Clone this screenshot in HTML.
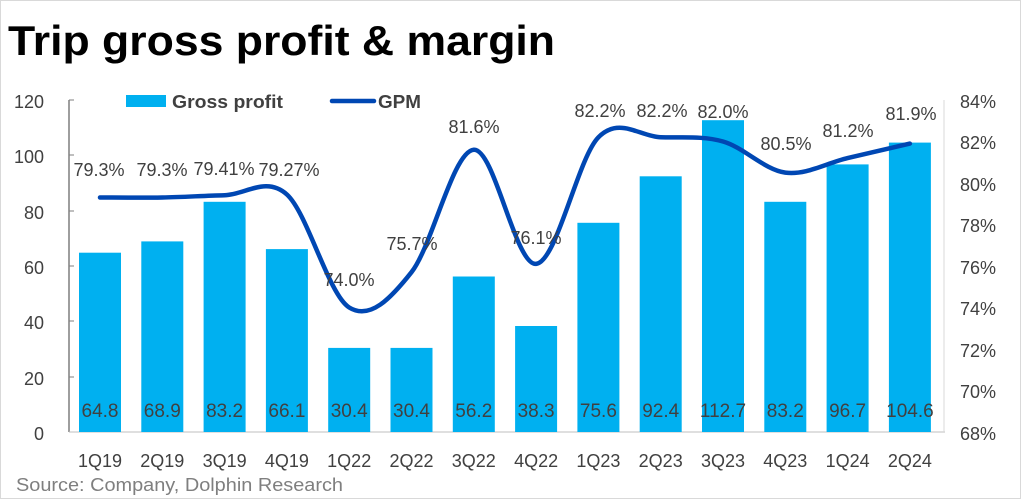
<!DOCTYPE html>
<html><head><meta charset="utf-8"><style>
body{margin:0;background:#fff;}
svg{display:block;font-family:"Liberation Sans",sans-serif;}
</style></head><body>
<svg width="1021" height="499" viewBox="0 0 1021 499" xmlns="http://www.w3.org/2000/svg">
<rect x="0.5" y="0.5" width="1020" height="498" fill="#fff" stroke="#d9d9d9"/>
<text x="8" y="55" font-size="42" font-weight="bold" fill="#000" textLength="547" lengthAdjust="spacingAndGlyphs">Trip gross profit &amp; margin</text>
<!-- axes -->
<line x1="69" y1="100" x2="69" y2="432" stroke="#7f7f7f" stroke-width="1.5"/>
<line x1="69" y1="432" x2="945" y2="432" stroke="#bfbfbf"/>
<line x1="944" y1="100" x2="944" y2="432" stroke="#d9d9d9"/>
<g stroke="#7f7f7f"><line x1="69" y1="100" x2="74" y2="100"/><line x1="69" y1="155" x2="74" y2="155"/><line x1="69" y1="211" x2="74" y2="211"/><line x1="69" y1="266" x2="74" y2="266"/><line x1="69" y1="321" x2="74" y2="321"/><line x1="69" y1="377" x2="74" y2="377"/></g>
<g font-size="18" fill="#404040" text-anchor="end">
<text x="44" y="108">120</text><text x="44" y="163">100</text><text x="44" y="219">80</text><text x="44" y="274">60</text><text x="44" y="329">40</text><text x="44" y="385">20</text><text x="44" y="440">0</text>
</g>
<g font-size="18" fill="#404040">
<text x="960" y="108">84%</text><text x="960" y="149">82%</text><text x="960" y="191">80%</text><text x="960" y="232">78%</text><text x="960" y="274">76%</text><text x="960" y="315">74%</text><text x="960" y="357">72%</text><text x="960" y="398">70%</text><text x="960" y="440">68%</text>
</g>
<!-- bars -->
<g fill="#00b0f0">
<rect x="79" y="252.7" width="42" height="179.3"/>
<rect x="141.3" y="241.4" width="42" height="190.6"/>
<rect x="203.6" y="201.8" width="42" height="230.2"/>
<rect x="265.9" y="249.1" width="42" height="182.9"/>
<rect x="328.2" y="347.9" width="42" height="84.1"/>
<rect x="390.5" y="347.9" width="42" height="84.1"/>
<rect x="452.8" y="276.5" width="42" height="155.5"/>
<rect x="515.1" y="326.0" width="42" height="106"/>
<rect x="577.4" y="222.8" width="42" height="209.2"/>
<rect x="639.7" y="176.3" width="42" height="255.7"/>
<rect x="702" y="120.2" width="42" height="311.8"/>
<rect x="764.3" y="201.8" width="42" height="230.2"/>
<rect x="826.6" y="164.4" width="42" height="267.6"/>
<rect x="888.9" y="142.6" width="42" height="289.4"/>
</g>
<g font-size="19" fill="#404040" text-anchor="middle">
<text x="100" y="417">64.8</text><text x="162.3" y="417">68.9</text><text x="224.6" y="417">83.2</text><text x="286.9" y="417">66.1</text><text x="349.2" y="417">30.4</text><text x="411.5" y="417">30.4</text><text x="473.8" y="417">56.2</text><text x="536.1" y="417">38.3</text><text x="598.4" y="417">75.6</text><text x="660.7" y="417">92.4</text><text x="723" y="417">112.7</text><text x="785.3" y="417">83.2</text><text x="847.6" y="417">96.7</text><text x="909.9" y="417">104.6</text>
</g>
<g font-size="18" fill="#404040" text-anchor="middle">
<text x="100" y="467">1Q19</text><text x="162.3" y="467">2Q19</text><text x="224.6" y="467">3Q19</text><text x="286.9" y="467">4Q19</text><text x="349.2" y="467">1Q22</text><text x="411.5" y="467">2Q22</text><text x="473.8" y="467">3Q22</text><text x="536.1" y="467">4Q22</text><text x="598.4" y="467">1Q23</text><text x="660.7" y="467">2Q23</text><text x="723" y="467">3Q23</text><text x="785.3" y="467">4Q23</text><text x="847.6" y="467">1Q24</text><text x="909.9" y="467">2Q24</text>
</g>
<path id="gpm" d="" fill="none" stroke="#0047b3" stroke-width="4.5" stroke-linecap="round"/>
<g font-size="18" fill="#404040" text-anchor="middle">
<text x="99" y="176">79.3%</text><text x="162" y="176">79.3%</text><text x="224" y="175">79.41%</text><text x="289" y="176">79.27%</text><text x="349" y="286">74.0%</text><text x="412" y="250">75.7%</text><text x="474" y="133">81.6%</text><text x="536" y="244">76.1%</text><text x="600" y="117">82.2%</text><text x="662" y="117">82.2%</text><text x="723" y="118">82.0%</text><text x="786" y="150">80.5%</text><text x="848" y="137">81.2%</text><text x="911" y="120">81.9%</text>
</g>
<!-- legend -->
<rect x="126" y="95" width="40" height="12" fill="#00b0f0"/>
<text x="172" y="108" font-size="18" font-weight="bold" fill="#404040" textLength="111" lengthAdjust="spacingAndGlyphs">Gross profit</text>
<line x1="332" y1="101" x2="374" y2="101" stroke="#0047b3" stroke-width="4.5" stroke-linecap="round"/>
<text x="378" y="108" font-size="18" font-weight="bold" fill="#404040" textLength="43" lengthAdjust="spacingAndGlyphs">GPM</text>
<text x="16" y="491" font-size="18" fill="#7f7f7f" textLength="327" lengthAdjust="spacingAndGlyphs">Source: Company, Dolphin Research</text>
</svg>
<script>
var ys=[197.5,197.5,195.2,194.5,307.5,272.2,149.8,263.9,137.3,137.3,141.5,172.6,158.1,143.6];
var p=ys.map(function(y,i){return [100+62.3*i,y];});
var d="M"+p[0][0]+","+p[0][1];
for(var i=0;i<p.length-1;i++){
var p0=p[i-1]||p[i],p1=p[i],p2=p[i+1],p3=p[i+2]||p[i+1];
var c1=[p1[0]+(p2[0]-p0[0])/6,p1[1]+(p2[1]-p0[1])/6];
var c2=[p2[0]-(p3[0]-p1[0])/6,p2[1]-(p3[1]-p1[1])/6];
d+=" C"+c1.join(",")+" "+c2.join(",")+" "+p2.join(",");}
document.getElementById("gpm").setAttribute("d",d);
</script>
</body></html>
